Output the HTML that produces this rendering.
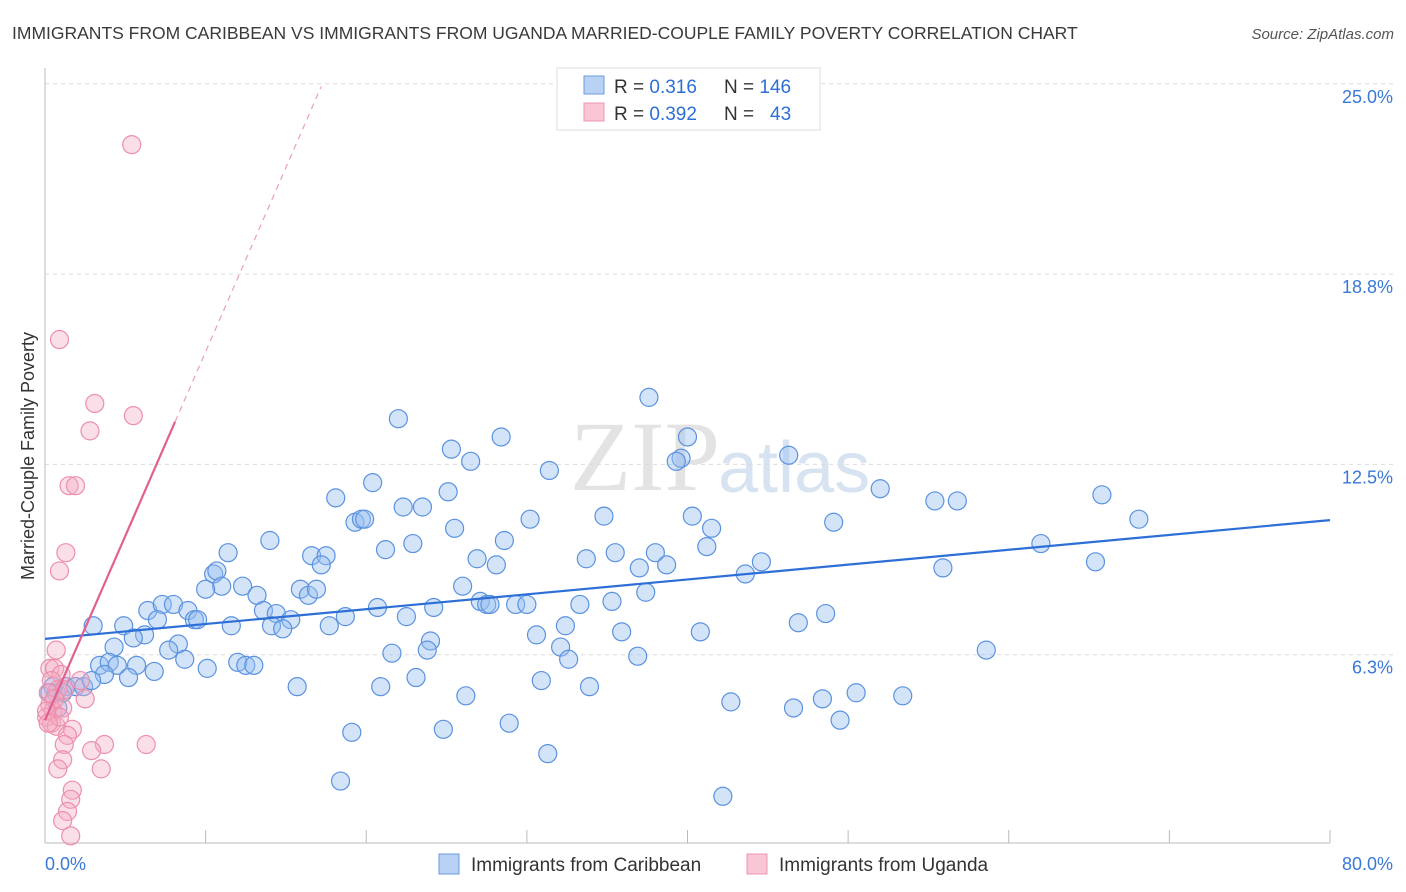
<!DOCTYPE html>
<html><head><meta charset="utf-8">
<style>
body{margin:0;background:#fff;font-family:"Liberation Sans",sans-serif;}
svg{display:block}
</style></head><body>
<svg id="chart" width="1406" height="892" viewBox="0 0 1406 892">
<text x="12" y="39" font-size="17.5" fill="#3a3a3a">IMMIGRANTS FROM CARIBBEAN VS IMMIGRANTS FROM UGANDA MARRIED-COUPLE FAMILY POVERTY CORRELATION CHART</text>
<text x="1394" y="39" font-size="15" fill="#555" font-style="italic" text-anchor="end">Source: ZipAtlas.com</text>
<text x="720" y="490" font-size="100" fill="#e3e3e3" text-anchor="end" font-family="Liberation Serif,serif">ZIP</text>
<text x="718" y="492" font-size="72" fill="#d8e3f2">atlas</text>
<g id="grid"></g>
<g id="axes"></g>
<g id="pts"></g>
<g id="trends"></g>
<text transform="translate(34,456) rotate(-90)" font-size="18" fill="#333" text-anchor="middle">Married-Couple Family Poverty</text>
<g>
<rect x="557" y="68" width="263" height="62" fill="#fff" stroke="#ddd"/>
<rect x="584" y="76" width="20" height="18" fill="#b9d1f3" stroke="#6b9be0"/>
<rect x="584" y="103" width="20" height="18" fill="#f8c6d4" stroke="#ec94ae"/>
<text x="614" y="93" font-size="19" fill="#333">R = <tspan fill="#2d6fd6">0.316</tspan><tspan x="724">N = </tspan><tspan fill="#2d6fd6">146</tspan></text>
<text x="614" y="120" font-size="19" fill="#333">R = <tspan fill="#2d6fd6">0.392</tspan><tspan x="724">N = </tspan><tspan x="770" fill="#2d6fd6">43</tspan></text>
</g>
<g>
<rect x="439" y="854" width="20" height="20" fill="#b9d1f3" stroke="#6b9be0"/>
<text x="471" y="871" font-size="19" fill="#333">Immigrants from Caribbean</text>
<rect x="747" y="854" width="20" height="20" fill="#f8c6d4" stroke="#ec94ae"/>
<text x="779" y="871" font-size="19" fill="#333">Immigrants from Uganda</text>
</g>
</svg>
<script>
const yTicks=[25.0,18.8,12.5,6.3];
const yTickVals=[25,18.75,12.5,6.25];
const xTickLabels=["0.0%","80.0%"];
const xTickVals=[0,10,20,30,40,50,60,70,80];
const blueX=[37.6,22.0,28.4,40.0,25.3,26.5,39.6,39.3,31.4,46.3,20.4,18.1,25.1,52.0,55.4,56.8,65.8,22.3,23.5,30.2,34.8,40.3,41.5,49.1,68.1,19.3,19.7,19.9,25.5,28.6,14.0,11.4,16.6,17.5,21.2,22.9,26.9,28.1,33.7,35.5,38.0,37.0,38.7,41.2,44.6,43.6,55.9,62.0,65.4,17.2,10.5,10.7,11.0,10.0,12.3,13.2,15.9,16.4,16.9,26.0,27.1,27.5,27.7,29.3,30.0,33.3,35.3,37.4,6.4,7.3,8.0,8.9,9.3,9.5,13.6,14.4,15.3,14.1,14.8,17.7,18.7,20.7,22.5,24.2,3.0,4.9,6.2,7.0,5.5,8.3,11.6,7.7,4.3,21.6,24.0,23.8,30.6,32.4,32.1,32.6,35.9,36.9,40.8,46.9,48.6,58.6,3.4,4.0,4.5,5.7,6.8,8.7,3.7,5.2,10.1,12.0,12.5,13.0,1.3,1.9,2.4,2.9,0.7,1.1,0.8,15.7,20.9,23.1,30.9,33.9,26.2,42.7,46.6,48.4,50.5,53.4,49.5,19.1,24.8,28.9,31.3,18.4,42.2,0.5,0.3];
const blueY=[14.7,14.0,13.4,13.4,13.0,12.6,12.7,12.6,12.3,12.8,11.9,11.4,11.6,11.7,11.3,11.3,11.5,11.1,11.1,10.7,10.8,10.8,10.4,10.6,10.7,10.6,10.7,10.7,10.4,10.0,10.0,9.6,9.5,9.5,9.7,9.9,9.4,9.2,9.4,9.6,9.6,9.1,9.2,9.8,9.3,8.9,9.1,9.9,9.3,9.2,8.9,9.0,8.5,8.4,8.5,8.2,8.4,8.2,8.4,8.5,8.0,7.9,7.9,7.9,7.9,7.9,8.0,8.3,7.7,7.9,7.9,7.7,7.4,7.4,7.7,7.6,7.4,7.2,7.1,7.2,7.5,7.8,7.5,7.8,7.2,7.2,6.9,7.4,6.8,6.6,7.2,6.4,6.5,6.3,6.7,6.4,6.9,7.2,6.5,6.1,7.0,6.2,7.0,7.3,7.6,6.4,5.9,6.0,5.9,5.9,5.7,6.1,5.6,5.5,5.8,6.0,5.9,5.9,5.2,5.2,5.2,5.4,5.0,5.0,4.5,5.2,5.2,5.5,5.4,5.2,4.9,4.7,4.5,4.8,5.0,4.9,4.1,3.7,3.8,4.0,3.0,2.1,1.6,5.2,5.0];
const pinkX=[5.4,0.9,3.1,2.8,5.5,1.5,1.9,1.3,0.9,0.7,0.3,0.6,1.0,0.4,0.8,0.2,1.2,0.3,0.5,1.1,2.5,0.1,0.4,0.7,1.7,1.4,1.2,3.7,2.9,6.3,1.1,0.8,3.5,1.7,1.6,1.4,1.1,1.6,0.6,0.9,0.1,0.2,2.2];
const pinkY=[23.0,16.6,14.5,13.6,14.1,11.8,11.8,9.6,9.0,6.4,5.8,5.8,5.6,5.4,5.1,5.0,5.1,4.6,4.4,4.5,4.8,4.2,4.0,3.9,3.8,3.6,3.3,3.3,3.1,3.3,2.8,2.5,2.5,1.8,1.5,1.1,0.8,0.3,4.8,4.2,4.4,4.0,5.4];
const blueTrend=[6.77,10.67];
const pinkTrend=[4.1,1.21];
const X0=45,X1=1330,Y0=845,PXY=30.45;
const sx=v=>X0+(X1-X0)*v/80;
const sy=v=>Y0-v*PXY;
const NS="http://www.w3.org/2000/svg";
function mk(tag,attrs,parent){const e=document.createElementNS(NS,tag);for(const k in attrs)e.setAttribute(k,attrs[k]);parent.appendChild(e);return e;}
const grid=document.getElementById('grid'),axes=document.getElementById('axes'),pts=document.getElementById('pts'),tr=document.getElementById('trends');
yTickVals.forEach((v,i)=>{
 const l=mk('line',{x1:X0,x2:1395,y1:sy(v),y2:sy(v),stroke:'#dcdcdc','stroke-dasharray':'4,4'},grid);
 
 
 const t=mk('text',{x:1393,y:sy(v)+19,'font-size':18,fill:'#3a78d8','text-anchor':'end'},grid);
 t.textContent=yTicks[i].toFixed(1)+'%';
 
 
});
const ya=mk('line',{x1:X0,x2:X0,y1:68,y2:843,stroke:'#bbb'},axes);


const xa=mk('line',{x1:X0,x2:X1,y1:843,y2:843,stroke:'#bbb'},axes);


xTickVals.forEach(v=>{const t=mk('line',{x1:sx(v),x2:sx(v),y1:830,y2:843,stroke:'#bbb'},axes);
 
 });
[[0,'start',45],[80,'end',1393]].forEach((a,i)=>{const t=mk('text',{x:a[2],y:870,'font-size':18,fill:'#3a78d8','text-anchor':a[1]},axes);t.textContent=xTickLabels[i];
 
 });
blueX.forEach((x,i)=>{const c=mk('circle',{cx:sx(x),cy:sy(blueY[i]),r:9,fill:'rgba(150,190,240,0.42)',stroke:'#5b92df','stroke-width':1.2},pts);
 
 });
pinkX.forEach((x,i)=>{const c=mk('circle',{cx:sx(x),cy:sy(pinkY[i]),r:9,fill:'rgba(245,170,195,0.38)',stroke:'#ec8fab','stroke-width':1.2},pts);
 
 });
const bl=mk('line',{x1:sx(0),y1:sy(blueTrend[0]),x2:sx(80),y2:sy(blueTrend[1]),stroke:'#2d6fd6','stroke-width':2.2},tr);


const pxEnd=8.1,pxDash=17.2;
const ps=mk('line',{x1:sx(0),y1:sy(pinkTrend[0]),x2:sx(pxEnd),y2:sy(pinkTrend[0]+pinkTrend[1]*pxEnd),stroke:'#e2608e','stroke-width':2.2},tr);


const pd=mk('line',{x1:sx(pxEnd),y1:sy(pinkTrend[0]+pinkTrend[1]*pxEnd),x2:sx(pxDash),y2:sy(pinkTrend[0]+pinkTrend[1]*pxDash),stroke:'#eaa0b8','stroke-width':1.2,'stroke-dasharray':'6,5'},tr);


</script>
</body></html>
